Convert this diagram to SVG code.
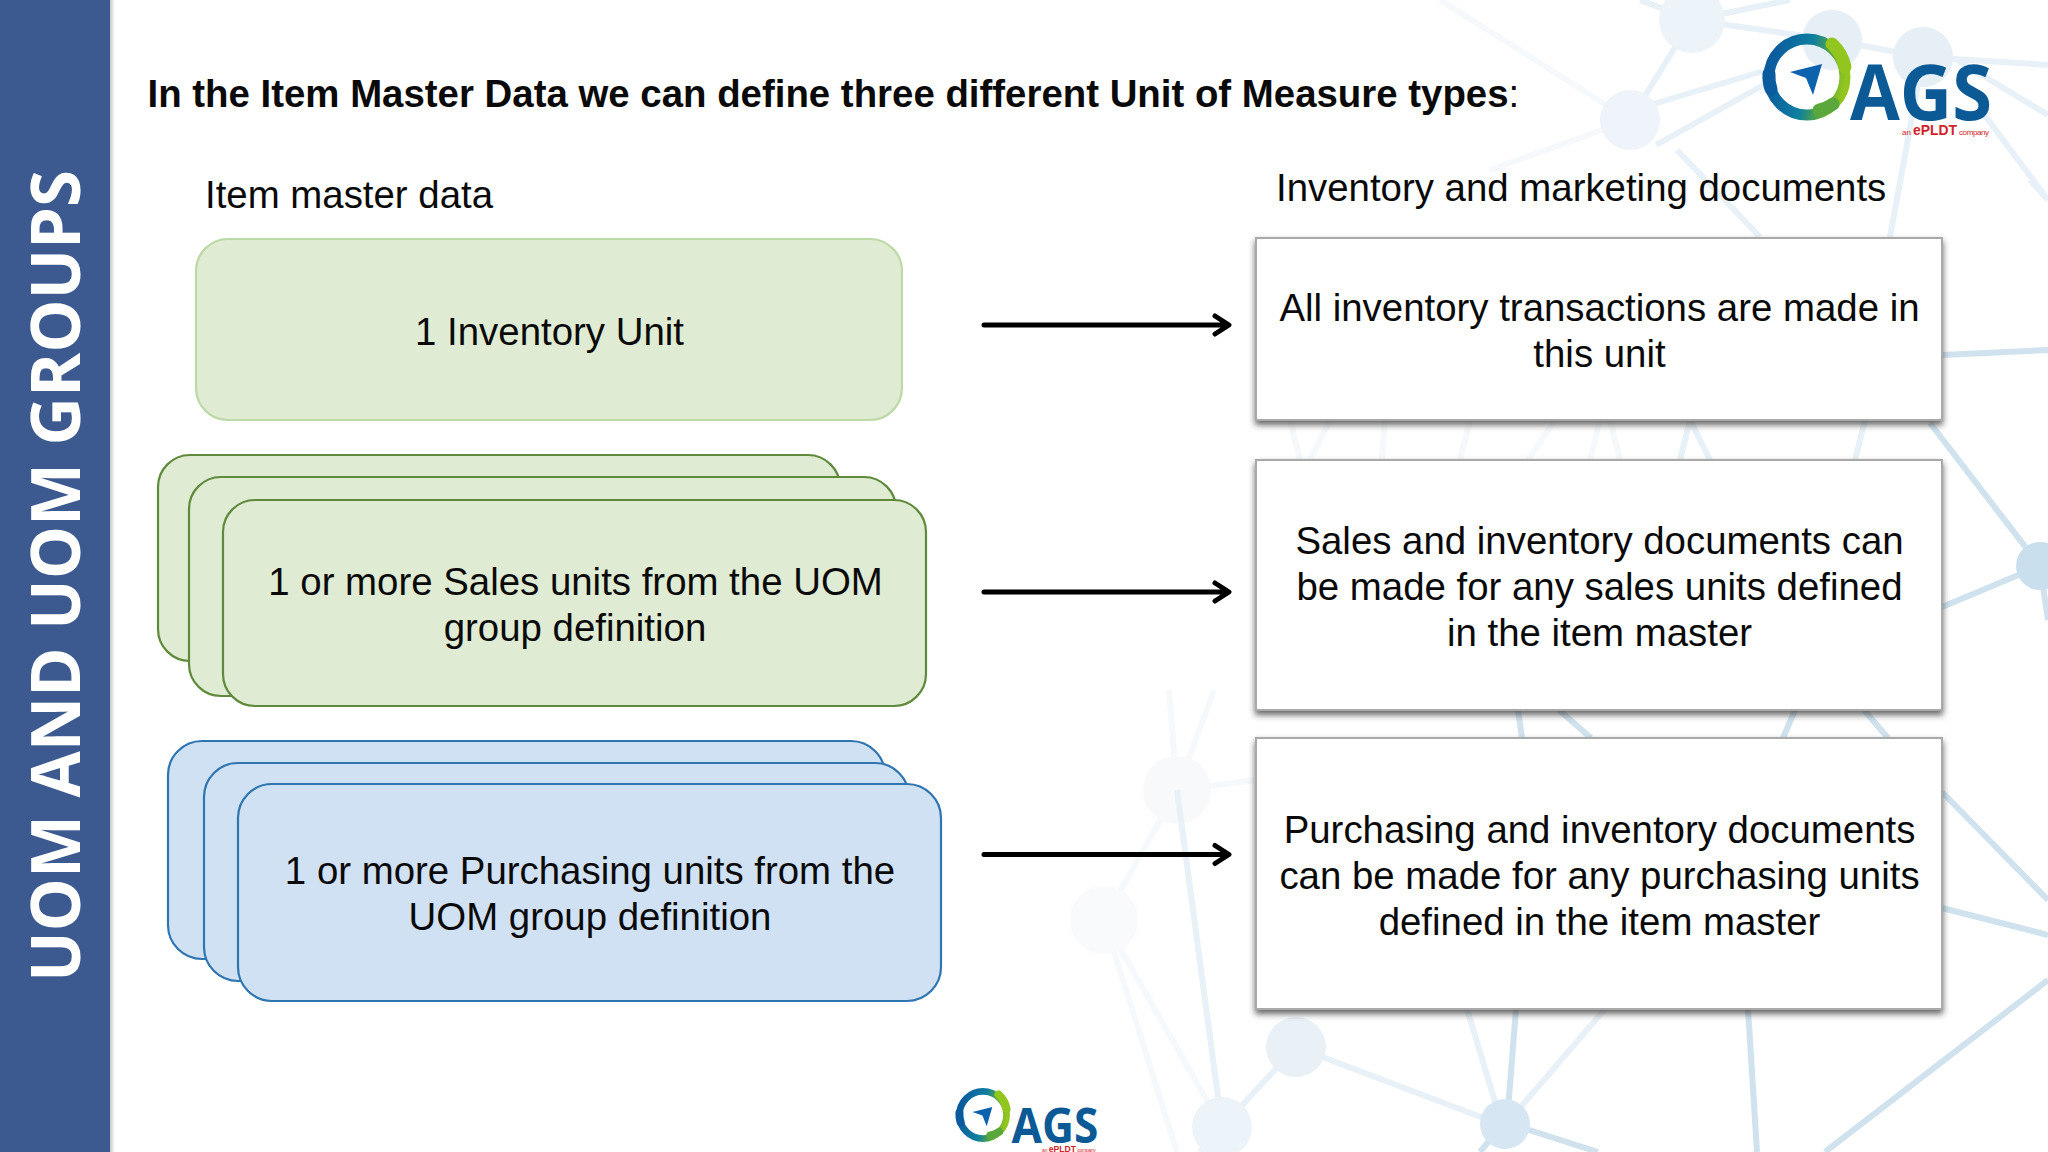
<svg xmlns="http://www.w3.org/2000/svg" width="2048" height="1152" viewBox="0 0 2048 1152">
<style>
.t{font-family:"Liberation Sans",Arial,sans-serif;font-size:38.4px;fill:#0a0a0a}
.m{text-anchor:middle}
.g{fill:#dfebd3;stroke:#5f8a3c;stroke-width:2.2}
.b{fill:#d1e1f4;stroke:#2f75b0;stroke-width:2.2}
.w{fill:#fff;stroke:#a9a9a9;stroke-width:2;filter:url(#sh)}
.c{fill:none;stroke:#000;stroke-width:5;stroke-linecap:round;stroke-linejoin:round}
.bg1{stroke:#cfe2ee;stroke-width:6;fill:none}
.bg2{stroke:#e8f1f7;stroke-width:6;fill:none}
.bg3{stroke:#f6f9fb;stroke-width:6;fill:none}
.ags{font-family:"Open Sans","Liberation Sans",sans-serif;font-weight:700;font-size:77px;fill:#0b5a96}
.ep{font-family:"Liberation Sans",sans-serif;fill:#d2232a}
</style>
<defs>
<filter id="sh" x="-5%" y="-5%" width="110%" height="114%"><feDropShadow dx="0" dy="4" stdDeviation="3" flood-color="#333" flood-opacity=".75"/></filter>
<linearGradient id="side" x1="0" x2="1" y1="0" y2="0"><stop offset="0" stop-color="#c8c8c8"/><stop offset="1" stop-color="#fff"/></linearGradient>
<linearGradient id="ring" x1="0" y1="0.35" x2="1" y2="0.55"><stop offset="0" stop-color="#0a5a9e"/><stop offset=".5" stop-color="#0f7fa0"/><stop offset=".72" stop-color="#4da24a"/><stop offset="1" stop-color="#93c51f"/></linearGradient>
</defs>
<rect width="2048" height="1152" fill="#fff"/>
<g id="background">
<g class="bg3">
<path d="M1177 790L1169 690M1177 790L1214 690M1177 790L1256 780M1104 920L1177 790M1104 920L1177 1152M1104 920L1222 1127M1290 420L1300 460M1330 420L1310 460M1385 420L1382 460M1470 420L1460 460M1555 420L1528 460M1600 420L1590 460M1610 420L1620 460"/>
<path d="M1630 120L1490 170M1630 120L1440 0"/>
<circle cx="1177" cy="790" r="34" fill="#f7f9fb" stroke="none"/><circle cx="1104" cy="920" r="34" fill="#f9fafc" stroke="none"/>
</g>
<g class="bg2">
<path d="M1177 790L1222 1127M1222 1127L1296 1047M1296 1047L1502 1125M1222 1127L1200 1152M1692 20L1832 40L1923 57M1650 105L1767 70M1656 145L1767 83M1677 150L1760 237M1630 120L1692 20M1630 120L1650 105M1692 20L1640 0M1692 20L1790 0M1467 1009L1502 1125M1605 1009L1507 1123M1923 57L2048 65M1923 57L1890 237M1957 60L2048 115M1983 113L2048 200M2030 180L2048 200"/>
<path d="M1690 420L1680 460M1690 420L1710 460M1865 420L1855 460"/>
<circle cx="1692" cy="20" r="33" fill="#edf4f9" stroke="none"/><circle cx="1630" cy="120" r="30" fill="#eef4f9" stroke="none"/><circle cx="1832" cy="40" r="30" fill="#e6eff5" stroke="none"/><circle cx="1923" cy="57" r="30" fill="#e6eff5" stroke="none"/><circle cx="1222" cy="1127" r="30" fill="#edf4f9" stroke="none"/><circle cx="1296" cy="1047" r="30" fill="#e9f1f7" stroke="none"/>
</g>
<g class="bg1">
<path d="M1942 355L2048 350M1930 423L2040 566M1942 607L2040 566M2040 566L2048 620M1942 792L2048 900M1942 908L2048 935M2048 980L1825 1152M1748 1009L1757 1152M1516 1009L1507 1123M1507 1123L1598 1152M1502 1125L1480 1152M1518 710L1522 738M1559 710L1591 738M1795 710L1783 738M1864 710L1888 738"/>
<circle cx="2040" cy="566" r="24" fill="#c9dfed" stroke="none"/><circle cx="1505" cy="1124" r="25" fill="#d6e6f2" stroke="none"/>
</g>
</g>
<g id="sidebar">
<rect x="110" y="0" width="5" height="1152" fill="url(#side)"/>
<rect x="0" y="0" width="110" height="1152" fill="#3c5a8f"/>
<text transform="translate(80 982) rotate(-90)" font-family="'Open Sans','Liberation Sans',sans-serif" font-weight="700" font-size="68" fill="#fff" textLength="812" lengthAdjust="spacingAndGlyphs">UOM AND UOM GROUPS</text>
</g>
<g id="title"><text class="t" x="147.500" y="107"><tspan font-weight="700">In the Item Master Data we can define three different Unit of Measure types</tspan><tspan font-weight="400">:</tspan></text></g>
<g id="logo-top" transform="translate(1807 77)">
<circle r="38" fill="none" stroke="url(#ring)" stroke-width="11"/>
<path d="M25 -33A42 42 0 0 1 38 -10" fill="none" stroke="#93c51f" stroke-width="13" stroke-linecap="round"/>
<path d="M-38 -3A38 38 0 0 0 -36 12" fill="none" stroke="#0a5a9e" stroke-width="13" stroke-linecap="round"/>
<path d="M12 33A38 38 0 0 0 26 27" fill="none" stroke="#5aa83c" stroke-width="13" stroke-linecap="round"/>
<path d="M-17 -5L15 -13L6 18L-1 1Z" fill="#0c62ad"/>
<text class="ags" x="43" y="43" textLength="142" lengthAdjust="spacingAndGlyphs">AGS</text>
<text class="ep" x="95" y="58" font-size="8">an</text>
<text class="ep" x="106" y="58" font-size="15" font-weight="700" textLength="44" lengthAdjust="spacingAndGlyphs">ePLDT</text>
<text class="ep" x="152" y="58" font-size="8" textLength="30">company</text>
</g>
<g id="logo-bottom" transform="translate(983 1115) scale(.62)">
<circle r="38" fill="none" stroke="url(#ring)" stroke-width="11"/>
<path d="M25 -33A42 42 0 0 1 38 -10" fill="none" stroke="#93c51f" stroke-width="13" stroke-linecap="round"/>
<path d="M-38 -3A38 38 0 0 0 -36 12" fill="none" stroke="#0a5a9e" stroke-width="13" stroke-linecap="round"/>
<path d="M12 33A38 38 0 0 0 26 27" fill="none" stroke="#5aa83c" stroke-width="13" stroke-linecap="round"/>
<path d="M-17 -5L15 -13L6 18L-1 1Z" fill="#0c62ad"/>
<text class="ags" x="46" y="45" textLength="140" lengthAdjust="spacingAndGlyphs">AGS</text>
<text class="ep" x="95" y="60" font-size="8">an</text>
<text class="ep" x="106" y="60" font-size="15" font-weight="700" textLength="44" lengthAdjust="spacingAndGlyphs">ePLDT</text>
<text class="ep" x="152" y="60" font-size="8" textLength="30">company</text>
</g>
<g id="label-item-master"><text class="t" x="205" y="208">Item master data</text></g>
<g id="label-documents"><text class="t" x="1276" y="201">Inventory and marketing documents</text></g>
<g id="node-inventory">
<rect x="196" y="239" width="706" height="181" rx="32" fill="#dfebd3" stroke="#bcd9a6" stroke-width="2.2"/>
<text class="t m" x="549.500" y="344.500">1 Inventory Unit</text>
</g>
<g id="node-sales">
<rect class="g" x="158" y="455" width="682" height="206" rx="32"/>
<rect class="g" x="189" y="477" width="707" height="219" rx="32"/>
<rect class="g" x="223" y="500" width="703" height="206" rx="32"/>
<text class="t m" x="575.500" y="594.500">1 or more Sales units from the UOM</text>
<text class="t m" x="575" y="641">group definition</text>
</g>
<g id="node-purchasing">
<rect class="b" x="168" y="741" width="717" height="218" rx="34"/>
<rect class="b" x="204" y="763" width="705" height="218" rx="34"/>
<rect class="b" x="238" y="784" width="703" height="217" rx="34"/>
<text class="t m" x="590" y="884">1 or more Purchasing units from the</text>
<text class="t m" x="590" y="930">UOM group definition</text>
</g>
<g id="node-doc-1">
<rect class="w" x="1256" y="238" width="686" height="182"/>
<text class="t m" x="1599.500" y="321">All inventory transactions are made in</text>
<text class="t m" x="1599.500" y="367">this unit</text>
</g>
<g id="node-doc-2">
<rect class="w" x="1256" y="460" width="686" height="250"/>
<text class="t m" x="1599.500" y="554">Sales and inventory documents can</text>
<text class="t m" x="1599.500" y="600">be made for any sales units defined</text>
<text class="t m" x="1599.500" y="646">in the item master</text>
</g>
<g id="node-doc-3">
<rect class="w" x="1256" y="738" width="686" height="271"/>
<text class="t m" x="1599.500" y="842.500">Purchasing and inventory documents</text>
<text class="t m" x="1599.500" y="888.500">can be made for any purchasing units</text>
<text class="t m" x="1599.500" y="934.500">defined in the item master</text>
</g>
<g id="connectors">
<path class="c" d="M984 325H1228M1215 316L1229 325L1215 334"/>
<path class="c" d="M984 592H1228M1215 583L1229 592L1215 601"/>
<path class="c" d="M984 854.500H1228M1215 845.500L1229 854.500L1215 863.500"/>
</g>
</svg>
